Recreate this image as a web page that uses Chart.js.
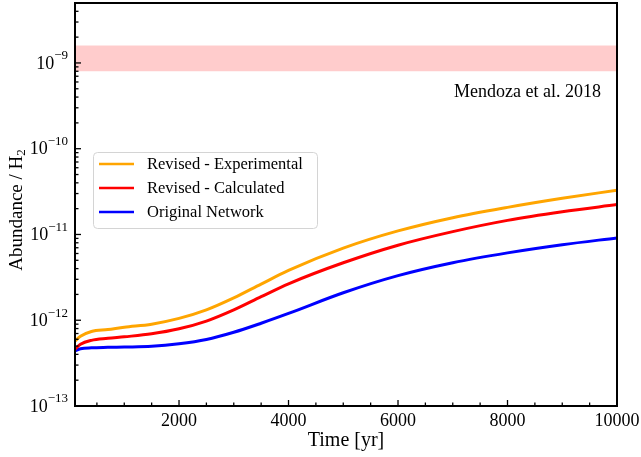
<!DOCTYPE html>
<html>
<head>
<meta charset="utf-8">
<script src="https://cdn.jsdelivr.net/npm/chart.js@4.4.1/dist/chart.umd.min.js"></script>
<style>
    html, body { margin: 0; padding: 0; background: #fff; }
    #wrap { width: 641px; height: 457px; position: relative; }
</style>
</head>
<body>
<div id="wrap"><canvas id="chart"></canvas></div>
<script>
const times = [100, 200, 400, 700, 1000, 1500, 2000, 2500, 3000, 3500, 4000, 5000, 6000, 7000, 8000, 9000, 10000];
const revisedExperimental = [5.7e-13, 6.5e-13, 7.4e-13, 7.8e-13, 8.3e-13, 9.0e-13, 1.05e-12, 1.32e-12, 1.82e-12, 2.64e-12, 3.81e-12, 6.93e-12, 1.1e-11, 1.57e-11, 2.07e-11, 2.64e-11, 3.28e-11];
const revisedCalculated = [4.58e-13, 5.24e-13, 5.83e-13, 6.15e-13, 6.41e-13, 6.94e-13, 7.94e-13, 9.77e-13, 1.32e-12, 1.88e-12, 2.66e-12, 4.68e-12, 7.5e-12, 1.08e-11, 1.46e-11, 1.84e-11, 2.23e-11];
const originalNetwork = [4.40e-13, 4.64e-13, 4.77e-13, 4.83e-13, 4.87e-13, 4.96e-13, 5.31e-13, 5.96e-13, 7.24e-13, 9.23e-13, 1.2e-12, 2.09e-12, 3.31e-12, 4.68e-12, 6.1e-12, 7.59e-12, 9.12e-12];

const bandTimes = [100, 10000];
const mendozaLow = 8e-10;
const mendozaHigh = 1.6e-9;

const xMajorTicks = [2000, 4000, 6000, 8000, 10000];
const yDecades = [-13, -12, -11, -10, -9];

const serif = '"Liberation Serif", "Times New Roman", serif';

const toPoints = (xs, ys) => xs.map((x, i) => ({x: x, y: ys[i]}));

function lineSet(label, values, color) {
    return {
        label: label,
        data: toPoints(times, values),
        borderColor: color,
        backgroundColor: color,
        borderWidth: 3,
        pointRadius: 0,
        cubicInterpolationMode: 'monotone',
        fill: false
    }
}

// frame, inward ticks, y labels with exponents, legend and the note
const decorPlugin = {
    id: 'decor',
    afterDraw(chart) {
        const ctx = chart.ctx
        const area = chart.chartArea
        const xs = chart.scales.x
        const ys = chart.scales.y

        ctx.save()
        ctx.strokeStyle = '#000'
        ctx.lineWidth = 1.3

        // x ticks
        for (let v = 500; v <= 10000; v += 500) {
            const px = xs.getPixelForValue(v)
            const len = v % 2000 === 0 ? 6 : 3.5
            ctx.beginPath()
            ctx.moveTo(px, area.bottom)
            ctx.lineTo(px, area.bottom - len)
            ctx.stroke()
        }

        // y ticks
        yDecades.forEach((d) => {
            for (let m = 1; m <= 9; m++) {
                const v = m * Math.pow(10, d)
                if (v > ys.max) continue
                const py = ys.getPixelForValue(v)
                const len = m === 1 ? 6 : 3.5
                ctx.beginPath()
                ctx.moveTo(area.left, py)
                ctx.lineTo(area.left + len, py)
                ctx.stroke()
            }
        })

        // frame
        ctx.lineWidth = 2
        ctx.strokeRect(area.left, area.top, area.right - area.left, area.bottom - area.top)

        // y tick labels
        ctx.fillStyle = '#000'
        ctx.textBaseline = 'middle'
        yDecades.forEach((d) => {
            const py = ys.getPixelForValue(Math.pow(10, d))
            const exp = '\u2212' + Math.abs(d)
            ctx.font = '13px ' + serif
            const ew = ctx.measureText(exp).width
            ctx.font = '18px ' + serif
            const bw = ctx.measureText('10').width
            const right = area.left - 7
            ctx.textAlign = 'left'
            ctx.fillText('10', right - ew - bw, py + 1)
            ctx.font = '13px ' + serif
            ctx.fillText(exp, right - ew, py - 7)
        })

        // y axis title
        ctx.save()
        ctx.translate(17, 210)
        ctx.rotate(-Math.PI / 2)
        ctx.font = '19px ' + serif
        const main = 'Abundance / H'
        const mw = ctx.measureText(main).width
        ctx.font = '13px ' + serif
        const sw = ctx.measureText('2').width
        const start = -(mw + sw) / 2
        ctx.font = '19px ' + serif
        ctx.textAlign = 'left'
        ctx.textBaseline = 'middle'
        ctx.fillText(main, start, 0)
        ctx.font = '13px ' + serif
        ctx.fillText('2', start + mw, 5)
        ctx.restore()

        // legend
        const box = {x: 93, y: 152, w: 224, h: 76}
        ctx.beginPath()
        ctx.roundRect(box.x + 0.5, box.y + 0.5, box.w, box.h, 4)
        ctx.fillStyle = 'rgba(255,255,255,0.8)'
        ctx.fill()
        ctx.strokeStyle = '#d4d4d4'
        ctx.lineWidth = 1
        ctx.stroke()
        chart.data.datasets.slice(0, 3).forEach((ds, i) => {
            const ry = box.y + 12 + i * 24
            ctx.strokeStyle = ds.borderColor
            ctx.lineWidth = 2.4
            ctx.beginPath()
            ctx.moveTo(box.x + 6, ry)
            ctx.lineTo(box.x + 41, ry)
            ctx.stroke()
            ctx.fillStyle = '#000'
            ctx.font = '16.5px ' + serif
            ctx.textAlign = 'left'
            ctx.textBaseline = 'middle'
            ctx.fillText(ds.label, box.x + 54, ry + 1)
        })

        // note on the band
        ctx.font = '18px ' + serif
        ctx.textAlign = 'right'
        ctx.textBaseline = 'middle'
        ctx.fillStyle = '#000'
        ctx.fillText('Mendoza et al. 2018', area.right - 16, 92)

        ctx.restore()
    }
}

new Chart(document.getElementById('chart'), {
    type: 'line',
    data: {
        datasets: [
            lineSet('Revised - Experimental', revisedExperimental, '#FFA500'),
            lineSet('Revised - Calculated', revisedCalculated, '#FF0000'),
            lineSet('Original Network', originalNetwork, '#0000FF'),
            {
                label: 'band-high',
                data: toPoints(bandTimes, bandTimes.map(() => mendozaHigh)),
                borderWidth: 0,
                pointRadius: 0,
                backgroundColor: 'rgba(255,0,0,0.2)',
                fill: '+1'
            },
            {
                label: 'band-low',
                data: toPoints(bandTimes, bandTimes.map(() => mendozaLow)),
                borderWidth: 0,
                pointRadius: 0,
                fill: false
            }
        ]
    },
    options: {
        responsive: true,
        maintainAspectRatio: false,
        animation: false,
        layout: {
            padding: {top: 3, right: 24, left: 0, bottom: 0}
        },
        plugins: {
            legend: {display: false},
            tooltip: {enabled: false}
        },
        scales: {
            x: {
                type: 'linear',
                min: 100,
                max: 10000,
                afterBuildTicks: (scale) => {
                    scale.ticks = xMajorTicks.map((v) => ({value: v}))
                },
                afterFit: (scale) => {
                    scale.height = 51
                    scale.paddingLeft = 0
                    scale.paddingRight = 0
                },
                grid: {display: false, drawTicks: false},
                border: {display: false},
                ticks: {
                    autoSkip: false,
                    maxRotation: 0,
                    padding: 4,
                    color: '#000',
                    font: {family: serif, size: 18},
                    callback: (value) => String(value)
                },
                title: {
                    display: true,
                    text: 'Time [yr]',
                    color: '#000',
                    font: {family: serif, size: 20},
                    padding: {top: 0, bottom: 4}
                }
            },
            y: {
                type: 'logarithmic',
                min: 1e-13,
                max: 5e-9,
                afterFit: (scale) => {
                    scale.width = 75
                },
                grid: {display: false, drawTicks: false},
                border: {display: false},
                ticks: {display: false}
            }
        }
    },
    plugins: [decorPlugin]
});
</script>
</body>
</html>
